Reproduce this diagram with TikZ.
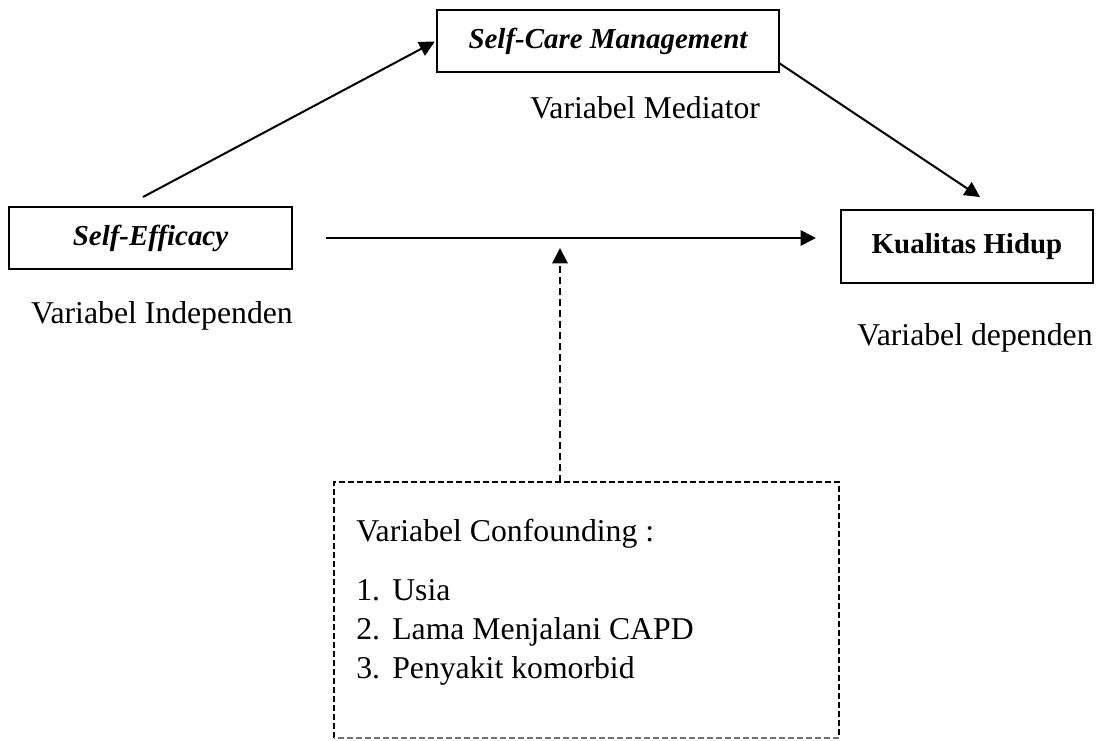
\documentclass[tikz,border=0pt]{standalone}
\usepackage{fontspec}
\setmainfont{Liberation Serif}
\usetikzlibrary{arrows.meta}
\begin{document}
\begin{tikzpicture}[x=0.75pt,y=-0.75pt,
  varbox/.style={draw,line width=1.6pt,inner sep=0pt,font=\fontsize{21.7}{26}\selectfont\bfseries},
  lbl/.style={inner sep=0pt,anchor=base,font=\fontsize{23.8}{28}\selectfont},
  itm/.style={inner sep=0pt,anchor=base west,font=\fontsize{23.8}{28}\selectfont},
  arr/.style={line width=1.5pt,-{Triangle[length=11.5pt,width=11.5pt]}},
  darr/.style={line width=1.5pt,dash pattern=on 5.25pt off 3pt,-{Triangle[length=11.5pt,width=11.5pt]}},
  dbox/.style={line width=1.5pt,dash pattern=on 4.5pt off 2.25pt}]
\useasboundingbox (0,0) rectangle (1110,740);
% boxes
\node[varbox,minimum width=256.5pt,minimum height=46.5pt] (sc) at (608,41) {\itshape Self-Care Management};
\node[varbox,minimum width=212.25pt,minimum height=46.5pt] (se) at (150.5,238) {\itshape Self-Efficacy};
\node[varbox,minimum width=189pt,minimum height=54.75pt] (kh) at (967,246.5) {Kualitas Hidup};
% labels
\node[lbl] (lmed) at (645,118) {Variabel Mediator};
\node[lbl] (lind) at (162,323) {Variabel Independen};
\node[lbl] (ldep) at (975,345) {Variabel dependen};
% confounding box
\coordinate (c1) at (334,482);
\coordinate (c2) at (839,482);
\coordinate (c3) at (839,738);
\coordinate (c4) at (334,738);
\draw[dbox] (c4) -- (c1) -- (c2) -- (c3);
\draw[dbox,draw=black!55] (c3) -- (c4);
\node[itm] (ct) at (356,541) {Variabel Confounding :};
\node[itm] (n1) at (356,600) {1.};
\node[itm] (t1) at (392,600) {Usia};
\node[itm] (n2) at (356,639) {2.};
\node[itm] (t2) at (392,639) {Lama Menjalani CAPD};
\node[itm] (n3) at (356,678) {3.};
\node[itm] (t3) at (392,678) {Penyakit komorbid};
% connectors
\coordinate (a1) at (143,197);
\draw[arr,shorten >=1pt] (a1) -- (sc.west);
\coordinate (b1) at (779,63);
\coordinate (b2) at (980,197);
\draw[arr] (b1) -- (b2);
\draw[arr,shorten <=24.75pt,shorten >=18pt] (se.east) -- (se.east -| kh.west);
\coordinate (d0) at (560,482);
\coordinate (d1) at (560,248);
\draw[darr] (d0) -- (d1);
\end{tikzpicture}
\end{document}
